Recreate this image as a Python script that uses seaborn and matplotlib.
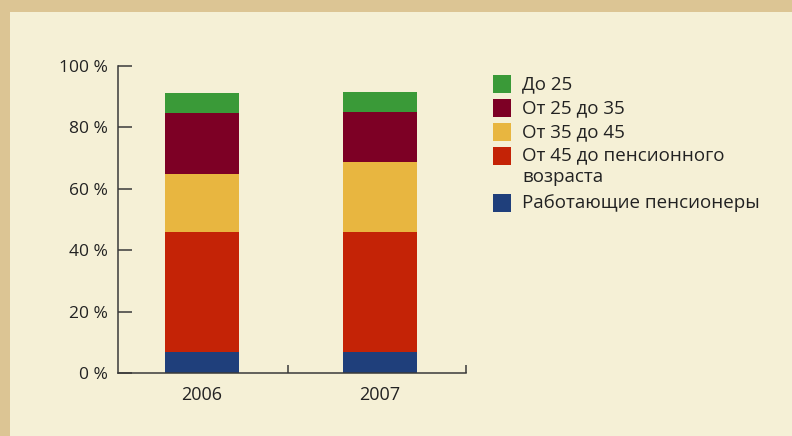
import matplotlib
matplotlib.use('Agg')
import matplotlib.pyplot as plt
from matplotlib.patches import Rectangle
import seaborn as sns
import pandas as pd
import numpy as np

years = ['2006', '2007']
groups = ['Работающие пенсионеры', 'От 45 до пенсионного\nвозраста', 'От 35 до 45', 'От 25 до 35', 'До 25']
colors = ['#1f3f7b', '#c42306', '#e8b640', '#7d0025', '#3a9a38']
# shares in percent, bottom to top
pensioners = [6.9, 6.9]
age45_pension = [39.0, 39.0]
age35_45 = [18.9, 22.8]
age25_35 = [19.8, 16.2]
under25 = [6.5, 6.5]

sns.set_theme(style='white')
plt.rcParams['font.family'] = ['Open Sans', 'DejaVu Sans']

values = np.array([pensioners, age45_pension, age35_45, age25_35, under25])
cum = values.cumsum(axis=0)

fig = plt.figure(figsize=(7.92, 4.36), dpi=100)
fig.patch.set_facecolor('#dcc594')
fig.patches.append(Rectangle((10 / 792, 0.0), 1.0, 1 - 12 / 436, transform=fig.transFigure,
                             facecolor='#f5f0d6', edgecolor='none', zorder=-10))

ax = fig.add_axes([118 / 792, (436 - 373) / 436, 348 / 792, 307 / 436])
ax.set_facecolor('none')

# draw cumulative bars from top layer down so each one shows its own segment
for i in range(len(groups) - 1, -1, -1):
    df = pd.DataFrame({'Год': years, 'Доля': cum[i]})
    sns.barplot(data=df, x='Год', y='Доля', color=colors[i], width=0.414,
                saturation=1, linewidth=0, edgecolor='none', ax=ax, zorder=2)

ax.set_ylim(0, 100)
ax.set_xlim(-0.47, 1.484)
ax.set_xlabel('')
ax.set_ylabel('')
ax.set_yticks(range(0, 101, 20))
ax.set_yticklabels([f'{v} %' for v in range(0, 101, 20)])
ax.tick_params(axis='y', direction='in', length=10, width=1.1, color='#3a3a3a',
               labelsize=12.5, pad=7, labelcolor='#222222', left=True)
ax.tick_params(axis='x', which='major', length=0, labelsize=13, pad=9, labelcolor='#222222')
ax.set_xticks([0.484, 1.484], minor=True)
ax.tick_params(axis='x', which='minor', direction='in', length=6, width=1.1, color='#3a3a3a', bottom=True)

sns.despine(ax=ax, top=True, right=True)
for s in ['left', 'bottom']:
    ax.spines[s].set_color('#3a3a3a')
    ax.spines[s].set_linewidth(1.1)

# legend, top to bottom
leg_rows = [84, 108, 132, 156, 203]
for k, i in enumerate(range(len(groups) - 1, -1, -1)):
    yc = leg_rows[k]
    fig.patches.append(Rectangle((493 / 792, (436 - yc - 9) / 436), 18 / 792, 18 / 436,
                                 transform=fig.transFigure, facecolor=colors[i],
                                 edgecolor='none', zorder=3))
    if '\n' in groups[i]:
        fig.text(522 / 792, (436 - yc + 10) / 436, groups[i], fontsize=13.5, color='#222222',
                 va='top', ha='left', linespacing=1.32)
    else:
        fig.text(522 / 792, (436 - yc) / 436, groups[i], fontsize=13.5, color='#222222',
                 va='center', ha='left')

fig.savefig('out.png', dpi=100, facecolor=fig.get_facecolor())
